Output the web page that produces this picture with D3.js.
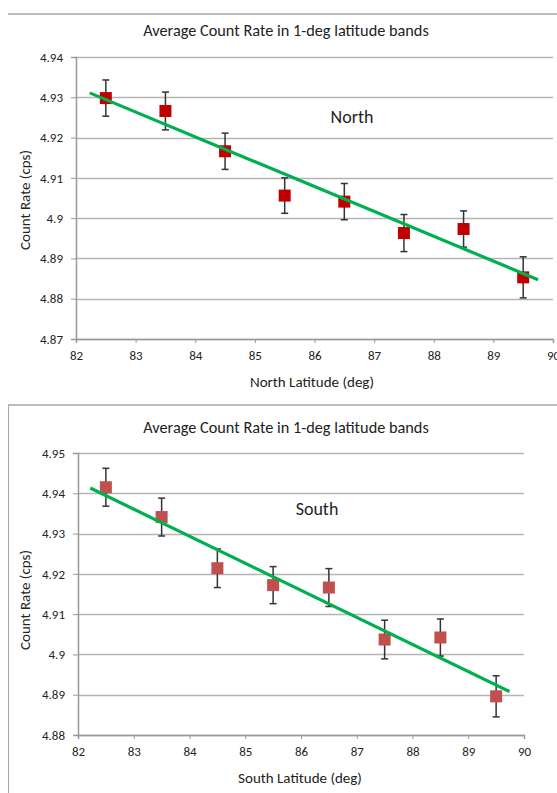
<!DOCTYPE html>
<html>
<head>
<meta charset="utf-8">
<script src="https://cdn.jsdelivr.net/npm/d3@7"></script>
<style>
  body { margin: 0; background: #fff; }
  text { font-family: Carlito, Calibri, "Liberation Sans Narrow", "Open Sans", sans-serif; fill: #222; }
</style>
</head>
<body>
<div class="chart"></div>
<script>
// latitude bands (centres)
let latitudes = [82.5, 83.5, 84.5, 85.5, 86.5, 87.5, 88.5, 89.5];

let northRate = [4.9298, 4.9266, 4.9166, 4.9056, 4.9041, 4.8963, 4.8973, 4.8853];
let northErr = [0.0045, 0.0047, 0.0045, 0.0044, 0.0045, 0.0046, 0.0045, 0.0051];
let northFit = [[82.23, 4.9311], [89.75, 4.8847]];

let southRate = [4.9415, 4.9341, 4.9214, 4.9172, 4.9166, 4.9037, 4.9042, 4.8896];
let southErr = [0.0047, 0.0047, 0.0048, 0.0046, 0.0047, 0.0048, 0.0046, 0.0051];
let southFit = [[82.22, 4.9413], [89.74, 4.8908]];

let xTicks = [82, 83, 84, 85, 86, 87, 88, 89, 90];
let northYTicks = [4.87, 4.88, 4.89, 4.9, 4.91, 4.92, 4.93, 4.94];
let southYTicks = [4.88, 4.89, 4.9, 4.91, 4.92, 4.93, 4.94, 4.95];

let width = 557;
let height = 793;

let svg = d3.select('.chart')
  .append('svg')
  .attr('width', width)
  .attr('height', height);

// panel frame lines
svg.append('line').attr('x1', 8).attr('x2', 557).attr('y1', 14).attr('y2', 14)
  .attr('stroke', '#a6a6a6').attr('stroke-width', 1.5);
svg.append('line').attr('x1', 8).attr('x2', 557).attr('y1', 405).attr('y2', 405)
  .attr('stroke', '#a6a6a6').attr('stroke-width', 1.5);
svg.append('line').attr('x1', 8.5).attr('x2', 8.5).attr('y1', 405).attr('y2', 793)
  .attr('stroke', '#a6a6a6').attr('stroke-width', 1);

function drawPanel(p) {
  let x = d3.scaleLinear().domain([82, 90]).range([p.left, p.right]);
  let y = d3.scaleLinear().domain(p.yDomain).range([p.bottom, p.top]);

  let g = svg.append('g');

  // gridlines
  g.append('g')
    .selectAll('line')
    .data(p.yTicks)
    .enter().append('line')
    .attr('x1', p.left)
    .attr('x2', p.right)
    .attr('y1', function(d) { return Math.round(y(d)) + 0.5; })
    .attr('y2', function(d) { return Math.round(y(d)) + 0.5; })
    .attr('stroke', '#b5b5b5')
    .attr('stroke-width', 1.3);

  let yAxis = g.append('g')
    .attr('transform', 'translate(' + p.left + ',0)')
    .call(d3.axisLeft(y).tickValues(p.yTicks).tickSize(5).tickPadding(8)
      .tickFormat(function(d) { return d3.format('')(+d.toFixed(2)); }));

  let xAxis = g.append('g')
    .attr('transform', 'translate(0,' + p.bottom + ')')
    .call(d3.axisBottom(x).tickValues(xTicks).tickSize(4).tickPadding(8));

  [yAxis, xAxis].forEach(function(a) {
    a.select('.domain').attr('stroke', '#999').attr('stroke-width', 1.5);
    a.selectAll('.tick line').attr('stroke', '#999');
    a.selectAll('.tick text').style('font-size', '13px').attr('fill', '#333');
  });

  // title + labels
  g.append('text')
    .attr('x', 286).attr('y', p.titleY)
    .attr('text-anchor', 'middle')
    .style('font-size', '16.3px')
    .text('Average Count Rate in 1-deg latitude bands');

  g.append('text')
    .attr('transform', 'translate(30,' + p.yLabelY + ') rotate(-90)')
    .attr('text-anchor', 'middle')
    .style('font-size', '15px')
    .text('Count Rate (cps)');

  g.append('text')
    .attr('x', p.xLabelX).attr('y', p.xLabelY)
    .attr('text-anchor', 'middle')
    .style('font-size', '15px')
    .text(p.xLabel);

  g.append('text')
    .attr('x', p.nameX).attr('y', p.nameY)
    .attr('text-anchor', 'middle')
    .style('font-size', '18px')
    .text(p.name);

  // error bars
  let bars = g.append('g')
    .selectAll('g')
    .data(latitudes)
    .enter().append('g');

  bars.append('line')
    .attr('x1', function(d) { return x(d); })
    .attr('x2', function(d) { return x(d); })
    .attr('y1', function(d, i) { return y(p.rate[i] + p.err[i]); })
    .attr('y2', function(d, i) { return y(p.rate[i] - p.err[i]); })
    .attr('stroke', '#333')
    .attr('stroke-width', 1.5);

  [1, -1].forEach(function(s) {
    bars.append('line')
      .attr('x1', function(d) { return x(d) - 3.5; })
      .attr('x2', function(d) { return x(d) + 3.5; })
      .attr('y1', function(d, i) { return y(p.rate[i] + s * p.err[i]); })
      .attr('y2', function(d, i) { return y(p.rate[i] + s * p.err[i]); })
      .attr('stroke', '#333')
      .attr('stroke-width', 1.5);
  });

  // markers
  g.append('g')
    .selectAll('rect')
    .data(latitudes)
    .enter().append('rect')
    .attr('x', function(d) { return x(d) - 6; })
    .attr('y', function(d, i) { return y(p.rate[i]) - 6; })
    .attr('width', 12)
    .attr('height', 12)
    .attr('fill', p.color);

  // linear fit
  g.append('path')
    .datum(p.fit)
    .attr('d', d3.line()
      .x(function(d) { return x(d[0]); })
      .y(function(d) { return y(d[1]); }))
    .attr('fill', 'none')
    .attr('stroke', '#00b050')
    .attr('stroke-width', 3.2);
}

drawPanel({
  left: 76, right: 553, top: 57, bottom: 339,
  yDomain: [4.87, 4.94], yTicks: northYTicks,
  rate: northRate, err: northErr, fit: northFit,
  color: '#c00000',
  titleY: 36, yLabelY: 200,
  xLabel: 'North Latitude (deg)', xLabelX: 312, xLabelY: 387,
  name: 'North', nameX: 352, nameY: 123
});

drawPanel({
  left: 78, right: 524, top: 453, bottom: 735,
  yDomain: [4.88, 4.95], yTicks: southYTicks,
  rate: southRate, err: southErr, fit: southFit,
  color: '#c0504d',
  titleY: 433, yLabelY: 600,
  xLabel: 'South Latitude (deg)', xLabelX: 300, xLabelY: 783,
  name: 'South', nameX: 317, nameY: 515
});
</script>
</body>
</html>
